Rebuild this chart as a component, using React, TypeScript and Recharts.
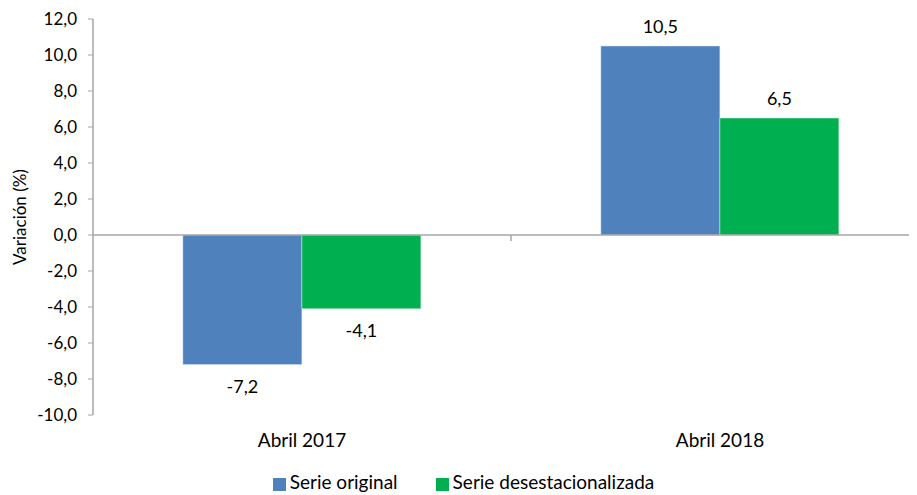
import React from 'react';
import { BarChart, Bar, XAxis, YAxis, Legend, ReferenceLine, LabelList } from 'recharts';

// values
const categories = ['Abril 2017', 'Abril 2018'];
const serieOriginal = [-7.2, 10.5];
const serieDesest = [-4.1, 6.5];
const yTicks = [-10, -8, -6, -4, -2, 0, 2, 4, 6, 8, 10, 12];
const seriesNames = ['Serie original', 'Serie desestacionalizada'];

const data = categories.map((name, i) => ({
  name,
  original: serieOriginal[i],
  desest: serieDesest[i],
}));

const FONT = 'Lato, "Open Sans", sans-serif';
const AXIS = '#a6a6a6';

const fmt = (v: number) => v.toFixed(1).replace('.', ',');

const ValueLabel = (props: any) => {
  const { x, y, width, height, value } = props;
  const top = Math.min(y, y + height);
  const bottom = Math.max(y, y + height);
  const ty = value >= 0 ? top - 20 : bottom + 21;
  return (
    <text x={x + width / 2} y={ty} textAnchor="middle" dominantBaseline="central" fontSize={18} fill="#000" fontFamily={FONT}>
      {fmt(value)}
    </text>
  );
};

// zero line with the category divider tick in the middle
const ZeroLine = (props: any) => {
  const { x1, y1, x2, y2 } = props;
  const mid = (x1 + x2) / 2;
  return (
    <g>
      <line x1={x1} y1={y1} x2={x2} y2={y2} stroke={AXIS} strokeWidth={1.5} />
      <line x1={mid} y1={y1} x2={mid} y2={y1 + 6} stroke={AXIS} strokeWidth={1.5} />
    </g>
  );
};

export default function App() {
  return (
    <div style={{ width: 909, height: 487, overflow: 'hidden', fontFamily: FONT }}>
      <BarChart
        width={925}
        height={487}
        data={data}
        margin={{ top: 11, right: 4, left: 0, bottom: 2 }}
        barCategoryGap="21.5%"
        barGap={0}
      >
        <XAxis
          dataKey="name"
          axisLine={false}
          tickLine={false}
          tickSize={0}
          tickMargin={19}
          height={55}
          tick={{ fill: '#000', fontSize: 19, fontFamily: FONT }}
        />
        <YAxis
          domain={[-10, 12]}
          ticks={yTicks}
          interval={0}
          width={85}
          tickFormatter={fmt}
          axisLine={{ stroke: AXIS, strokeWidth: 1.5 }}
          tickLine={{ stroke: AXIS }}
          tickSize={5}
          tickMargin={11}
          tick={{ fill: '#000', fontSize: 17, fontFamily: FONT }}
          label={{ value: 'Variación (%)', angle: -90, position: 'insideLeft', offset: 12, style: { textAnchor: 'middle', fill: '#000', fontSize: 17, fontFamily: FONT } }}
        />
        <ReferenceLine y={0} shape={<ZeroLine />} />
        <Legend
          verticalAlign="bottom"
          iconType="square"
          iconSize={13}
          itemSorter={(item: any) => seriesNames.indexOf(item.value)}
          wrapperStyle={{ fontSize: 19, color: '#000', fontFamily: FONT, paddingRight: 12 }}
          formatter={(value: string) => (
            <span style={{ color: '#000', marginRight: value === seriesNames[0] ? 28 : 0 }}>{value}</span>
          )}
        />
        <Bar dataKey="original" name={seriesNames[0]} fill="#4f81bd" stroke="#d9e3f0" strokeWidth={0.5} isAnimationActive={false}>
          <LabelList dataKey="original" content={<ValueLabel />} />
        </Bar>
        <Bar dataKey="desest" name={seriesNames[1]} fill="#00b050" stroke="#d9f0e0" strokeWidth={0.5} isAnimationActive={false}>
          <LabelList dataKey="desest" content={<ValueLabel />} />
        </Bar>
      </BarChart>
    </div>
  );
}
